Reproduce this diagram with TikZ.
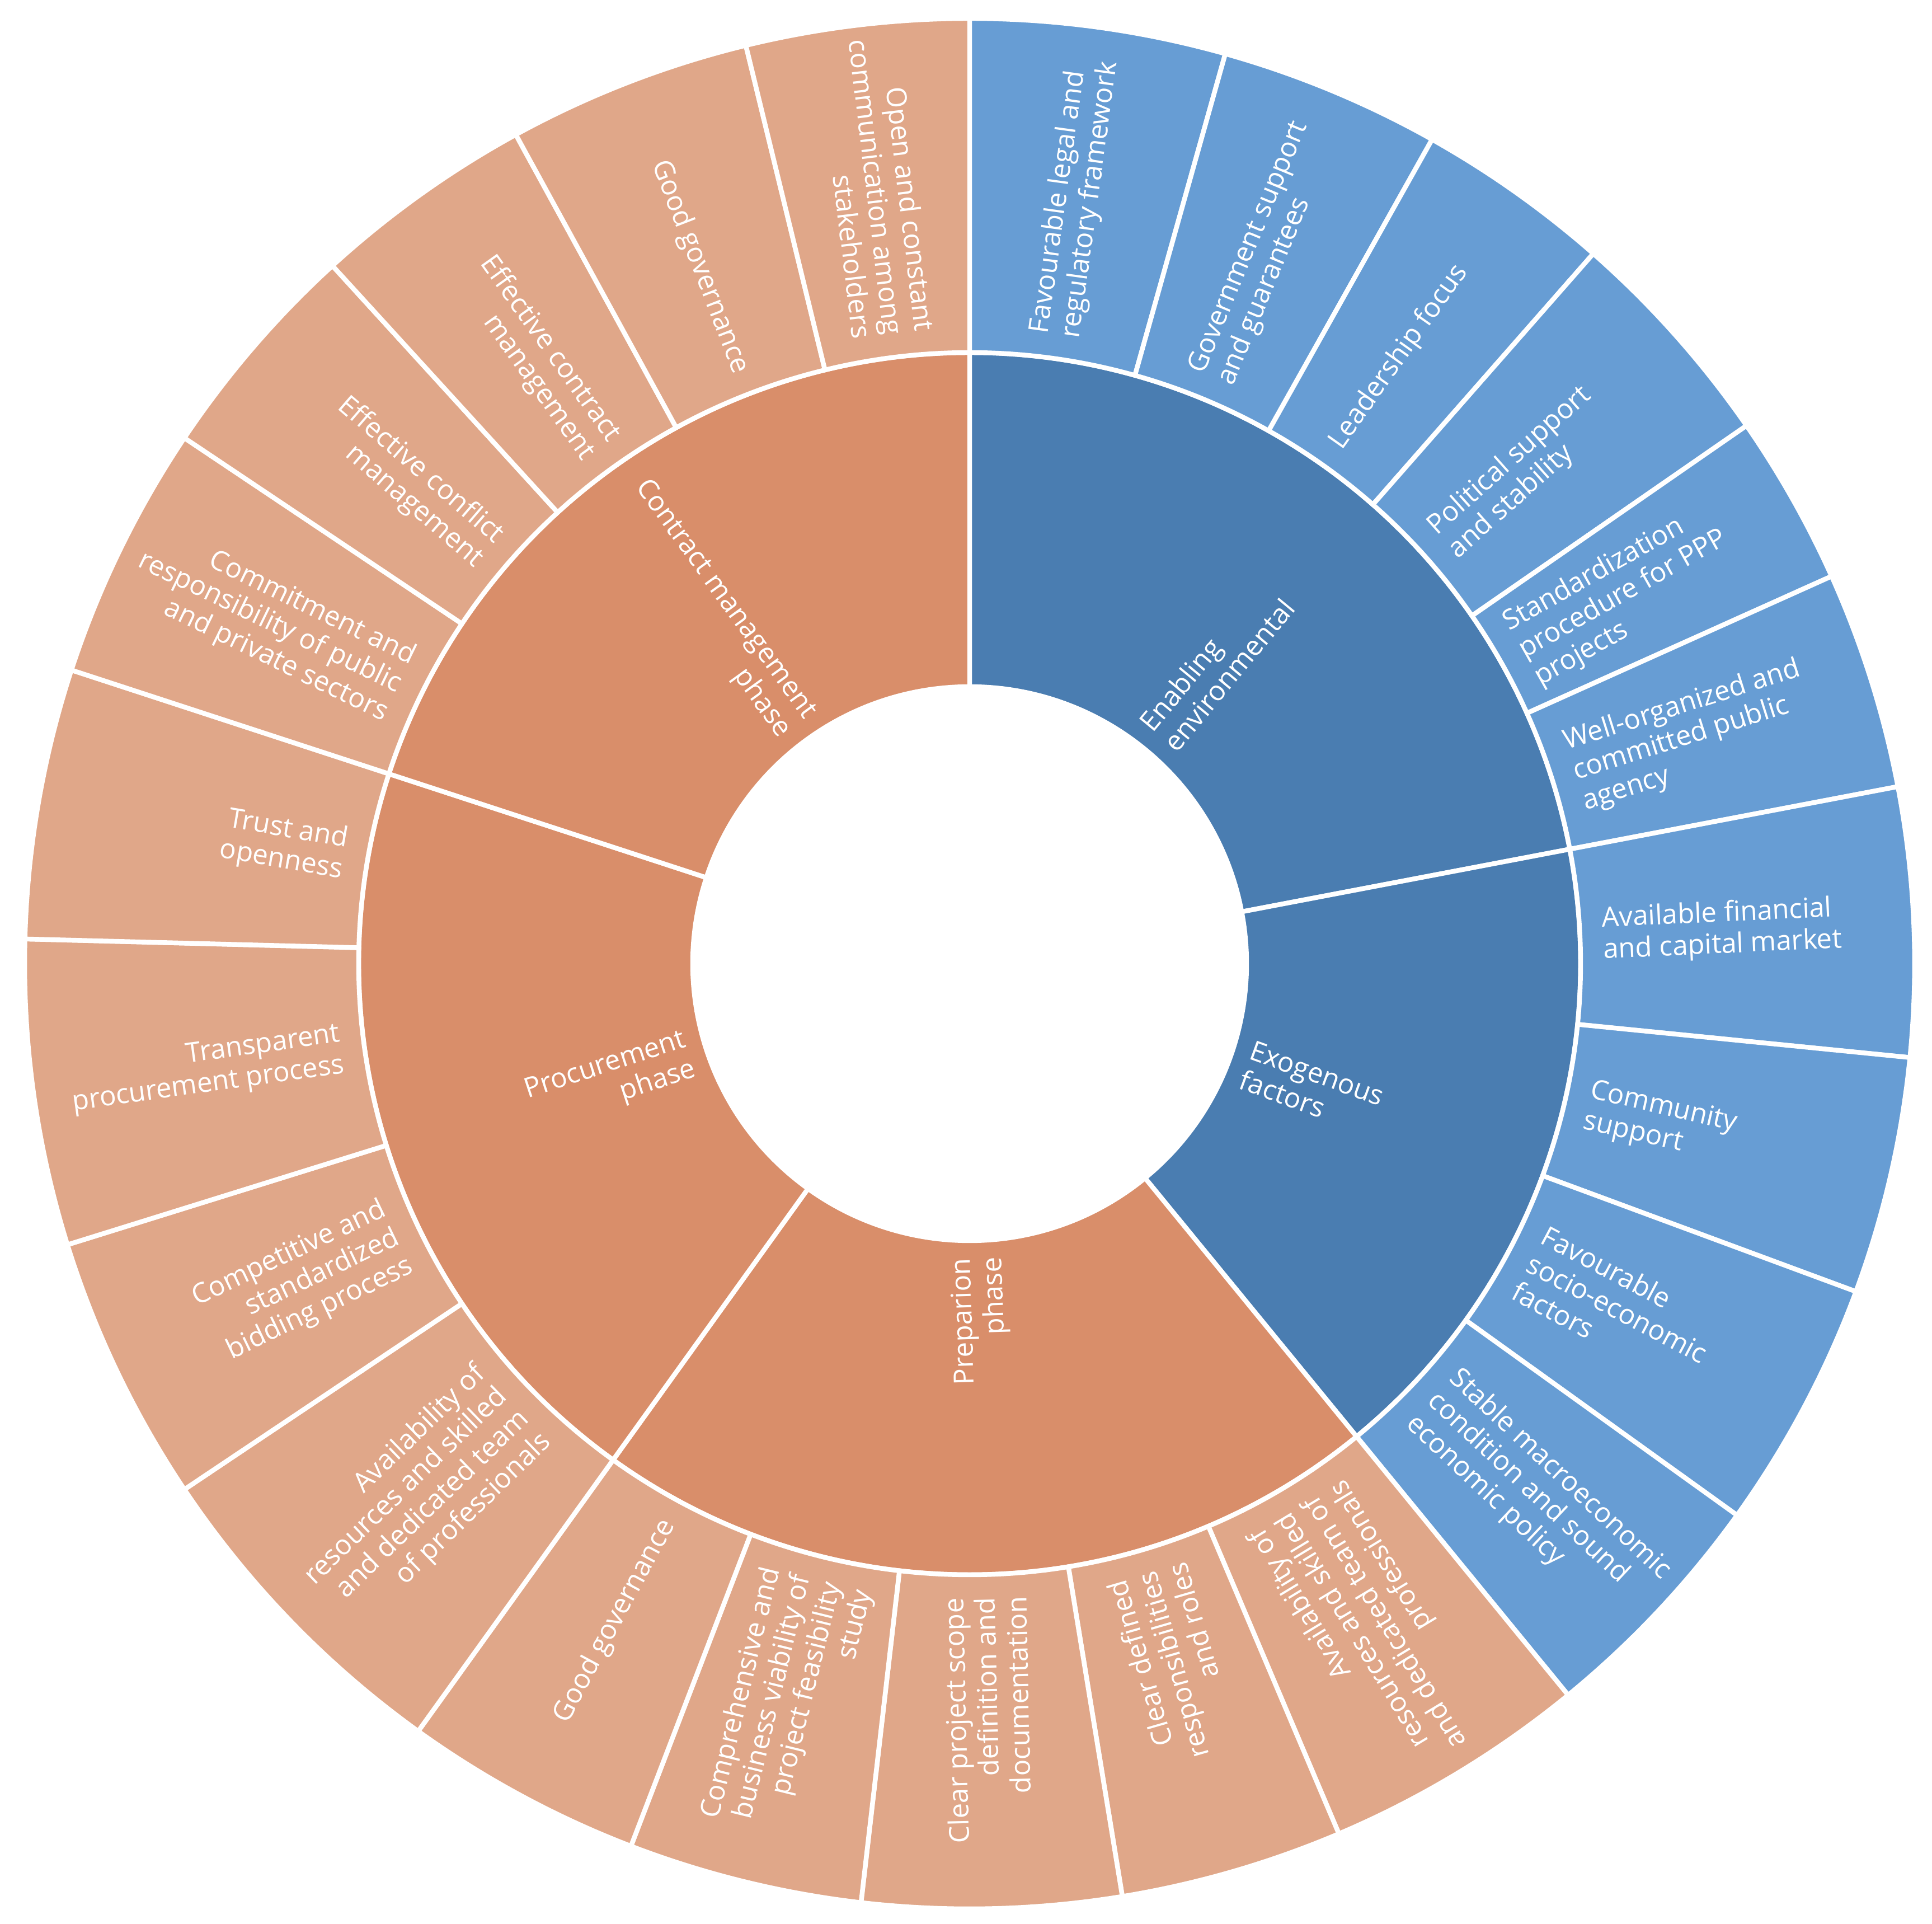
\documentclass[tikz,border=0pt]{standalone}
\usepackage{fontspec}
\setmainfont{Open Sans}
\definecolor{bluein}{HTML}{4A7DB1}
\definecolor{blueout}{HTML}{679DD4}
\definecolor{orin}{HTML}{D98E6A}
\definecolor{orout}{HTML}{E0A789}
\newcommand{\sbwedge}[5]{%
  \filldraw[seg,fill=#5] ({90-(#3)}:#1) -- ({90-(#3)}:#2)
    arc[start angle={90-(#3)}, end angle={90-(#4)}, radius=#2]
    -- ({90-(#4)}:#1)
    arc[start angle={90-(#4)}, end angle={90-(#3)}, radius=#1] -- cycle;}
\newcommand{\outlab}[4]{\node[labo, rotate={90-(#2)}] (#1) at ({90-(#2)}:#3) {#4};}
\newcommand{\inlab}[4]{\node[labi, rotate={270-(#2)}] (#1) at ({90-(#2)}:#3) {#4};}
\begin{document}
\begin{tikzpicture}[
  seg/.style={draw=white, line width=2.4pt, line join=round},
  lab/.style={text=white, font=\fontsize{14}{16}\selectfont, inner sep=0pt},
  labo/.style={lab, anchor=west, align=left},
  labi/.style={lab, anchor=east, align=right}]
\useasboundingbox (-17.33,-17.15) rectangle (17.20,17.22);
\def\rA{4.95}\def\rB{10.92}\def\rC{16.89}
\def\rLo{11.32}\def\rLm{5.25}
% middle ring
\sbwedge{\rA}{\rB}{0}{79.2}{bluein}
\sbwedge{\rA}{\rB}{79.2}{140.7}{bluein}
\sbwedge{\rA}{\rB}{140.7}{215.7}{orin}
\sbwedge{\rA}{\rB}{215.7}{288.1}{orin}
\sbwedge{\rA}{\rB}{288.1}{360}{orin}
% outer ring
\sbwedge{\rB}{\rC}{0}{15.7}{blueout}
\sbwedge{\rB}{\rC}{15.7}{29.3}{blueout}
\sbwedge{\rB}{\rC}{29.3}{41.3}{blueout}
\sbwedge{\rB}{\rC}{41.3}{55.3}{blueout}
\sbwedge{\rB}{\rC}{55.3}{65.8}{blueout}
\sbwedge{\rB}{\rC}{65.8}{79.2}{blueout}
\sbwedge{\rB}{\rC}{79.2}{95.7}{blueout}
\sbwedge{\rB}{\rC}{95.7}{110.3}{blueout}
\sbwedge{\rB}{\rC}{110.3}{125.7}{blueout}
\sbwedge{\rB}{\rC}{125.7}{140.7}{blueout}
\sbwedge{\rB}{\rC}{140.7}{157}{orout}
\sbwedge{\rB}{\rC}{157}{170.7}{orout}
\sbwedge{\rB}{\rC}{170.7}{186.6}{orout}
\sbwedge{\rB}{\rC}{186.6}{201}{orout}
\sbwedge{\rB}{\rC}{201}{215.7}{orout}
\sbwedge{\rB}{\rC}{215.7}{236.2}{orout}
\sbwedge{\rB}{\rC}{236.2}{252.7}{orout}
\sbwedge{\rB}{\rC}{252.7}{271.5}{orout}
\sbwedge{\rB}{\rC}{271.5}{288.1}{orout}
\sbwedge{\rB}{\rC}{288.1}{303.8}{orout}
\sbwedge{\rB}{\rC}{303.8}{317.6}{orout}
\sbwedge{\rB}{\rC}{317.6}{331.3}{orout}
\sbwedge{\rB}{\rC}{331.3}{346.3}{orout}
\sbwedge{\rB}{\rC}{346.3}{360}{orout}
% middle labels
\outlab{m1}{39.6}{\rLm}{Enabling\\environmental}
\outlab{m2}{109.95}{\rLm}{Exogenous\\factors}
\inlab{m3}{178.2}{\rLm}{Preparion\\phase}
\inlab{m4}{251.9}{\rLm}{Procurement\\phase}
\inlab{m5}{324.05}{\rLm}{Contract management\\phase}
% outer labels
\outlab{o1}{7.85}{\rLo}{Favourable legal and\\regulatory framework}
\outlab{o2}{22.5}{\rLo}{Government support\\and guarantees}
\outlab{o3}{35.3}{\rLo}{Leadership focus}
\outlab{o4}{48.3}{\rLo}{Political support\\and stability}
\outlab{o5}{60.55}{\rLo}{Standardization\\procedure for PPP\\projects}
\outlab{o6}{72.5}{\rLo}{Well-organized and\\committed public\\agency}
\outlab{o7}{87.45}{\rLo}{Available financial\\and capital market}
\outlab{o8}{103}{\rLo}{Community\\support}
\outlab{o9}{118}{\rLo}{Favourable\\socio-economic\\factors}
\outlab{o10}{133.2}{\rLo}{Stable macroeconomic\\condition and sound\\economic policy}
\inlab{o11}{148.85}{\rLo}{Availability of\\resources and skilled\\and dedicated team of\\professionals}
\inlab{o12}{163.85}{\rLo}{Clear defined\\responsibilities\\and roles}
\inlab{o13}{178.65}{\rLo}{Clear project scope\\definition and\\documentation}
\inlab{o14}{193.8}{\rLo}{Comprehensive and\\business viability of\\project feasibility\\study}
\inlab{o15}{208.35}{\rLo}{Good governance}
\inlab{o16}{225.95}{\rLo}{Availability of\\resources and skilled\\and dedicated team\\of professionals}
\inlab{o17}{244.45}{\rLo}{Competitive and\\standardized\\bidding process}
\inlab{o18}{262.1}{\rLo}{Transparent\\procurement process}
\inlab{o19}{279.8}{\rLo}{Trust and\\openness}
\inlab{o20}{295.95}{\rLo}{Commitment and\\responsibility of public\\and private sectors}
\inlab{o21}{310.7}{\rLo}{Effective conflict\\management}
\inlab{o22}{324.45}{\rLo}{Effective contract\\management}
\inlab{o23}{338.8}{\rLo}{Good governance}
\inlab{o24}{353.15}{\rLo}{Open and constant\\communication among\\stakeholders}
\end{tikzpicture}
\end{document}
